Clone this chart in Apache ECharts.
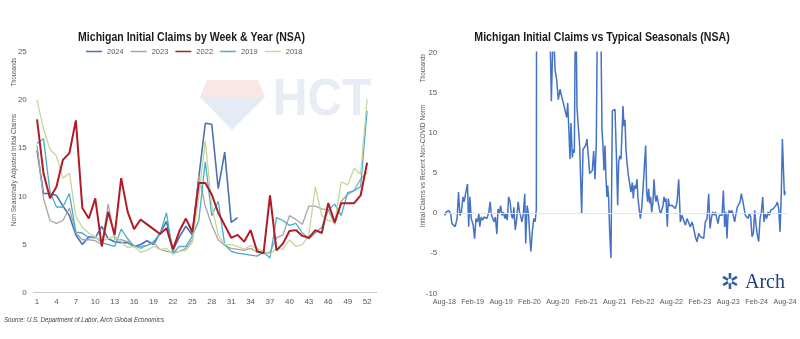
<!DOCTYPE html>
<html><head><meta charset="utf-8">
<script src="https://cdn.jsdelivr.net/npm/echarts/dist/echarts.min.js"></script>
<style>html,body{margin:0;padding:0;background:#fff}#c{width:800px;height:339px}</style>
</head><body><div id="c"></div>
<script>
// ---------- Left chart: weekly claims by year (thousands) ----------
const weekLabels = [];
for (let w = 1; w <= 53; w++) weekLabels.push(String(w));
const years = ['2024', '2023', '2022', '2019', '2018'];
const claims2024 = [14.8,10.3,10.3,10.1,9.0,8.0,6.0,5.0,5.8,5.7,6.9,5.6,5.3,5.2,5.2,4.8,5.0,5.4,5.0,6.2,7.4,4.4,5.8,6.9,6.0,12.0,17.6,17.5,10.8,14.6,7.3,7.8];
const claims2023 = [15.3,9.8,7.5,7.2,7.5,8.8,6.2,5.5,5.5,5.4,5.0,9.2,5.6,5.5,5.3,4.9,4.6,4.9,5.2,4.5,4.3,4.2,4.3,4.6,5.5,12.2,9.0,7.0,5.5,4.9,4.6,4.5,4.4,4.6,4.2,4.1,4.2,5.7,6.0,8.0,7.6,7.1,9.0,9.0,8.7,8.6,7.1,9.5,10.2,10.6,11.8,12.5];
const claims2022 = [18.0,12.4,9.8,11.0,13.8,14.5,17.9,8.8,7.7,9.8,4.8,8.4,6.0,11.9,8.4,6.6,7.6,7.1,6.6,6.1,6.7,4.5,6.4,7.7,6.3,11.4,11.4,10.2,8.3,7.0,5.7,6.0,5.3,6.5,4.3,4.1,10.1,4.4,5.1,6.4,6.5,5.9,5.7,6.5,6.2,9.3,7.3,9.3,9.3,9.3,10.1,13.5];
const claims2019 = [15.5,16.0,10.5,8.9,8.9,10.3,6.3,6.2,5.7,5.8,5.2,5.0,4.8,6.6,5.6,4.8,4.8,4.9,5.3,6.1,8.3,4.1,4.8,4.8,5.9,7.5,13.6,8.0,9.5,5.0,4.3,4.1,4.0,3.9,3.8,4.2,3.6,7.8,7.5,7.0,7.2,6.2,5.6,6.2,6.8,8.6,9.2,8.0,10.4,10.6,11.0,18.9];
const claims2018 = [20.0,17.0,14.9,14.2,11.9,12.4,7.9,6.8,6.2,5.8,5.4,5.6,5.9,5.3,4.7,4.8,4.2,4.4,4.8,4.5,4.6,4.0,4.3,4.4,5.2,10.0,15.8,9.0,6.0,5.0,5.0,4.8,4.5,4.9,4.6,4.3,4.0,4.6,4.5,5.5,4.8,5.0,6.0,11.0,8.0,7.5,7.3,11.5,11.2,12.9,12.3,20.1];

// ---------- Right chart: claims vs typical seasonals (thousands) ----------
// x = months since Aug-2018, y = gap vs recent non-COVID norm
const dateLabels = ['Aug-18','Feb-19','Aug-19','Feb-20','Aug-20','Feb-21','Aug-21','Feb-22','Aug-22','Feb-23','Aug-23','Feb-24','Aug-24'];
const gapPreCovid = [[0.1,-0.3],[0.4,0.1],[0.9,0.3],[1.35,-0.1],[1.6,-1.3],[2.0,-1.1],[2.3,-1.7],[2.7,-0.7],[3.0,2.6],[3.3,-0.3],[3.6,0.1],[3.95,2.0],[4.2,1.4],[4.5,2.4],[4.9,3.6],[5.15,-1.7],[5.4,2.0],[5.7,-0.7],[6.1,-1.5],[6.4,-3.2],[6.7,-0.7],[7.0,-1.1],[7.3,-0.1],[7.5,-1.7],[7.8,-0.5],[8.1,-0.9],[8.4,-0.5],[8.7,-0.3],[9.0,-0.7],[9.4,0.1],[9.7,1.4],[9.9,-0.1],[10.2,0.1],[10.5,-1.1],[10.8,-0.5],[11.1,-2.6],[11.35,0.5],[11.6,-0.1],[11.9,0.9],[12.2,-0.3],[12.5,0.1],[12.8,-0.7],[13.0,-0.1],[13.3,-0.9],[13.6,2.0],[13.9,1.4],[14.2,-0.3],[14.45,-0.7],[14.7,0.7],[15.0,-2.1],[15.3,-0.7],[15.6,1.4],[15.9,0.1],[16.1,-0.3],[16.4,-1.1],[16.7,-0.1],[17.0,2.4],[17.2,-3.8],[17.5,0.9],[17.8,-0.1],[18.0,-2.3],[18.3,-4.8],[18.6,-2.3],[18.9,-0.7],[19.2,-1.1],[19.45,0.5]];
const gapCovid = [[19.7,150],[20.0,320],[20.3,260],[20.7,180],[21.0,120],[21.4,70],[21.8,40],[22.1,30],[22.62,13.9],[23.05,24],[23.4,17.8]];
const gapRecovery = [[23.74,16.6],[24.09,14.1],[24.45,15.4],[24.8,14.5],[25.15,13.7],[25.5,13.9],[25.86,11.9],[26.07,13.7],[26.35,10.0],[26.56,6.7],[26.77,11.2],[27.05,6.9],[27.26,7.9],[27.48,7.5],[27.75,30],[28.04,13.1],[28.32,12.9],[28.6,8.4],[28.81,4.2],[29.03,-0.1],[29.31,7.9],[29.59,8.1],[29.87,8.4],[30.15,9.2],[30.43,7.1],[30.72,4.9],[31.0,4.9],[31.28,5.3],[31.56,7.7],[31.84,4.2],[32.12,8.8],[32.4,28],[32.7,40],[33.0,28],[33.32,10.4],[33.53,8.4],[33.74,5.3],[33.96,8.4],[34.17,4.2],[34.38,2.0],[34.52,3.4],[34.73,1.8],[34.94,-2.3],[35.22,-5.6],[35.51,12.7],[35.79,12.9],[36.07,12.9],[36.35,7.5],[36.63,0.95],[36.84,6.3],[37.06,7.1],[37.34,6.7],[37.55,10.0],[37.76,13.3],[37.97,10.8],[38.18,11.6],[38.39,7.9],[38.61,6.3],[38.89,4.7],[39.17,4.7],[39.45,2.6],[39.73,3.8],[39.94,1.8],[40.15,3.4],[40.44,3.0],[40.72,4.2],[40.93,1.8],[41.14,2.0],[41.42,-0.7],[41.7,0.5],[41.99,3.0],[42.27,3.2],[42.55,8.4],[42.76,2.6],[42.97,1.4],[43.18,3.0],[43.4,1.2],[43.61,2.0],[43.82,0.1],[44.1,1.4],[44.31,4.2],[44.52,2.2],[44.73,1.4],[44.95,2.2],[45.16,1.4],[45.44,0.5],[45.72,-0.1],[45.93,0.3],[46.21,0.9],[46.42,2.0],[46.64,1.4],[46.85,1.8],[47.13,-1.7],[47.34,1.8],[47.55,0.9],[47.83,0.9]];
const gapRecent = [[48.12,0.95],[48.47,1.15],[48.82,0.54],[49.18,1.36],[49.53,4.2],[49.88,-1.11],[50.23,-0.29],[50.59,-0.49],[50.94,-1.52],[51.29,-0.7],[51.64,-0.49],[51.99,-1.73],[52.35,-1.11],[52.7,-1.93],[53.05,-2.96],[53.4,-3.58],[53.76,-2.55],[54.11,-2.96],[54.46,-2.76],[54.81,-3.17],[55.16,-1.11],[55.52,-0.7],[55.87,2.39],[56.15,-1.93],[56.43,-0.7],[56.71,0.13],[57.0,-0.29],[57.28,0.13],[57.56,0.33],[57.84,-1.32],[58.12,-0.29],[58.4,-0.08],[58.69,-0.29],[58.97,2.8],[59.25,-1.73],[59.53,0.13],[59.74,-3.17],[59.95,-0.29],[60.24,0.33],[60.52,-0.08],[60.8,0.33],[61.08,0.54],[61.36,-1.11],[61.64,-0.08],[61.93,0.74],[62.21,0.95],[62.49,1.36],[62.77,2.39],[63.05,1.56],[63.34,1.36],[63.62,-0.29],[63.9,-0.08],[64.18,-0.7],[64.46,-0.08],[64.74,-0.49],[65.03,-2.96],[65.31,-2.55],[65.59,0.33],[65.87,-1.52],[66.15,-2.76],[66.43,-3.58],[66.72,-0.7],[67.0,0.13],[67.28,1.98],[67.56,-1.11],[67.84,-0.08],[68.12,-0.7],[68.41,0.13],[68.69,-0.29],[68.97,0.33],[69.25,0.13],[69.53,0.54],[69.82,0.74],[70.1,0.95],[70.38,1.36],[70.66,0.54],[70.94,-2.35],[71.22,2.59],[71.44,9.2],[71.65,9.0],[71.86,2.2],[72.07,2.7]];

const FONT = "'Liberation Sans','Arial',sans-serif";
const LBL = '#595959';
const NARROW = 0.82;
const yearColors = {'2024':'#4a70b8','2023':'#a6a6a6','2022':'#b01c26','2019':'#4bacc6','2018':'#c4d79b'};
const yearWidths = {'2024':1.6,'2023':1.3,'2022':2,'2019':1.3,'2018':1.3};
const yearData = {'2024':claims2024,'2023':claims2023,'2022':claims2022,'2019':claims2019,'2018':claims2018};

function label(x, y, text, opts) {
  opts = opts || {};
  return {type:'text', x:x, y:y, rotation:opts.rot||0, scaleX:opts.scaleX||NARROW, silent:true, z:10,
    style:{text:text, fill:opts.fill||LBL, fontSize:opts.size||8, fontFamily:FONT,
      fontWeight:opts.weight||'normal', fontStyle:opts.style||'normal',
      align:opts.align||'center', verticalAlign:'middle', textAlign:opts.align||'center', textVerticalAlign:'middle'}};
}

const chart = echarts.init(document.getElementById('c'), null, {renderer:'canvas'});
const gapData = gapPreCovid.concat(gapCovid, gapRecovery, gapRecent);

const yearSeries = years.map(y => ({
  name:y, type:'line', xAxisIndex:0, yAxisIndex:0, data:yearData[y], symbol:'none',
  lineStyle:{color:yearColors[y], width:yearWidths[y]}, itemStyle:{color:yearColors[y]},
  z: y === '2022' ? 4 : 3
}));

chart.setOption({
  animation:false,
  backgroundColor:'#ffffff',
  legend:{data:years, left:86, top:47.5, padding:0, icon:'rect', itemWidth:16, itemHeight:1.5, itemGap:7,
    textStyle:{fontSize:7.5, color:LBL, fontFamily:FONT}},
  grid:[
    {left:33.8, top:52, width:343, height:240.7},
    {left:444.3, top:52.3, width:343.1, height:241}
  ],
  xAxis:[
    {type:'category', gridIndex:0, data:weekLabels, boundaryGap:true,
     axisLine:{show:true, lineStyle:{color:'#bfbfbf', type:'dotted', width:1}},
     axisTick:{show:false},
     axisLabel:{interval:(i) => i % 3 === 0 && i < 52, color:LBL, fontSize:8, fontFamily:FONT, margin:5},
     splitLine:{show:false}},
    {type:'value', gridIndex:1, min:0, max:72.5, interval:6,
     axisLine:{show:false}, axisTick:{show:false}, splitLine:{show:false},
     axisLabel:{color:LBL, fontSize:7.2, fontFamily:FONT, margin:5, showMaxLabel:false,
       formatter:(v) => { const k = Math.round(v/6); return (Math.abs(v-k*6) < 1e-6 && k < dateLabels.length) ? dateLabels[k] : ''; }}}
  ],
  yAxis:[
    {type:'value', gridIndex:0, min:0, max:25, interval:5,
     axisLine:{show:false}, axisTick:{show:false}, splitLine:{show:false},
     axisLabel:{color:LBL, fontSize:8, fontFamily:FONT, margin:7}},
    {type:'value', gridIndex:1, min:-10, max:20, interval:5,
     axisLine:{show:false}, axisTick:{show:false}, splitLine:{show:false},
     axisLabel:{color:LBL, fontSize:8, fontFamily:FONT, margin:7}}
  ],
  graphic:[
    // faint watermark
    {type:'polygon', silent:true, z:0, shape:{points:[[207,80],[258,80],[265,97],[200,97]]}, style:{fill:'#f9e6e6'}},
    {type:'polygon', silent:true, z:0, shape:{points:[[200,97],[265,97],[232,130]]}, style:{fill:'#e4ebf4'}},
    {type:'text', silent:true, z:0, x:273, y:101, scaleX:0.92, style:{text:'HCT', fill:'#e8edf5', fontSize:52, fontWeight:'bold', fontFamily:FONT, verticalAlign:'middle', textVerticalAlign:'middle'}},
    // titles
    label(191.5, 37, 'Michigan Initial Claims by Week & Year (NSA)', {size:13, weight:'bold', fill:'#1a1a1a', scaleX:0.81}),
    label(602, 37, 'Michigan Initial Claims vs Typical Seasonals (NSA)', {size:13, weight:'bold', fill:'#1a1a1a', scaleX:0.815}),
    // axis names
    label(14, 72, 'Thousands', {size:7, rot:Math.PI/2}),
    label(14, 170, 'Non Seasonally Adjusted Initial Claims', {size:8, rot:Math.PI/2}),
    label(423, 68, 'Thousands', {size:7, rot:Math.PI/2}),
    label(423, 166, 'Initial Claims vs Recent Non-COVID Norm', {size:8, rot:Math.PI/2}),
    // source
    label(4, 320, 'Source: U.S. Department of Labor, Arch Global Economics', {size:7.5, style:'italic', align:'left', fill:'#404040'}),
    // Arch logo
    {type:'text', silent:true, x:730, y:283, style:{text:'\u2732', fill:'#2d5fa8', fontSize:22, fontFamily:"'DejaVu Sans',sans-serif", align:'center', verticalAlign:'middle', textAlign:'center', textVerticalAlign:'middle'}},
    {type:'text', silent:true, x:745, y:283, style:{text:'Arch', fill:'#1f3f7f', fontSize:20, fontFamily:"'Liberation Serif','DejaVu Serif',serif", verticalAlign:'middle', textVerticalAlign:'middle'}}
  ],
  series: yearSeries.concat([{
    name:'Gap', type:'line', xAxisIndex:1, yAxisIndex:1, data:gapData, symbol:'none',
    lineStyle:{color:'#4472c4', width:1.5}, itemStyle:{color:'#4472c4'},
    markLine:{silent:true, symbol:'none', label:{show:false}, lineStyle:{color:'#e4e4e4', width:1, type:'solid'}, data:[{yAxis:0}]}
  }])
});
</script>
</body></html>
